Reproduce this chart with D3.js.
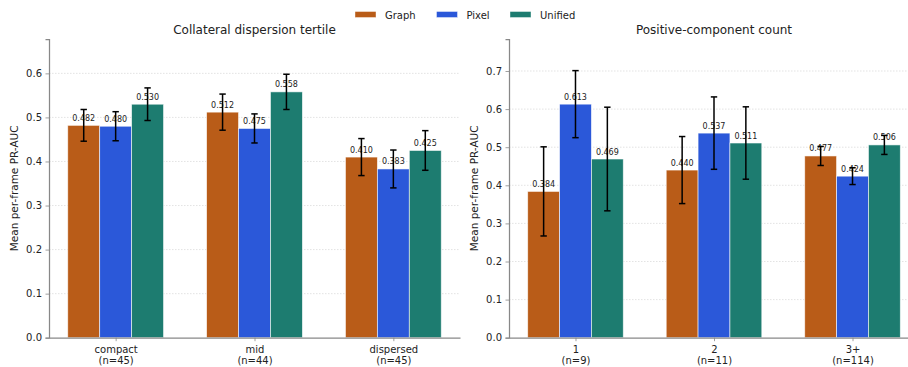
<!DOCTYPE html>
<html><head><meta charset="utf-8">
<script src="https://cdn.jsdelivr.net/npm/d3@7"></script>
<style>
html,body{margin:0;padding:0;background:#fff;}
svg{display:block;font-family:"DejaVu Sans",sans-serif;}
</style></head>
<body><svg id="c" width="908" height="367"></svg>
<script>
const seriesNames = ["Graph", "Pixel", "Unified"];
const seriesColors = ["#b95c18", "#2b58d9", "#1d7c70"];

const leftTitle = "Collateral dispersion tertile";
const leftCats = ["compact", "mid", "dispersed"];
const leftN = ["(n=45)", "(n=44)", "(n=45)"];
const leftGraph = [0.482, 0.512, 0.410];
const leftPixel = [0.480, 0.475, 0.383];
const leftUnified = [0.530, 0.558, 0.425];
const leftGraphErr = [0.036, 0.041, 0.042];
const leftPixelErr = [0.033, 0.033, 0.043];
const leftUnifiedErr = [0.037, 0.040, 0.045];
const leftTicks = [0.0, 0.1, 0.2, 0.3, 0.4, 0.5, 0.6];
const leftYMax = 0.678;

const rightTitle = "Positive-component count";
const rightCats = ["1", "2", "3+"];
const rightN = ["(n=9)", "(n=11)", "(n=114)"];
const rightGraph = [0.384, 0.440, 0.477];
const rightPixel = [0.613, 0.537, 0.424];
const rightUnified = [0.469, 0.511, 0.506];
const rightGraphErr = [0.117, 0.088, 0.025];
const rightPixelErr = [0.088, 0.095, 0.022];
const rightUnifiedErr = [0.136, 0.095, 0.025];
const rightTicks = [0.0, 0.1, 0.2, 0.3, 0.4, 0.5, 0.6, 0.7];
const rightYMax = 0.784;

const yLabel = "Mean per-frame PR-AUC";

const svg = d3.select("#c");
const barW = 0.23;
const offsets = [-barW, 0, barW];

function panel(cfg) {
  const x = d3.scaleLinear().domain([-0.48, 2.48]).range([cfg.x0, cfg.x1]);
  const y = d3.scaleLinear().domain([0, cfg.ymax]).range([337.7, 39]);
  const g = svg.append("g");
  function i2(d) { return d.i + offsets[d.s]; }

  // grid
  g.selectAll("line.grid").data(cfg.ticks.filter(t => t > 0)).enter().append("line")
    .attr("x1", cfg.x0).attr("x2", cfg.x1)
    .attr("y1", d => y(d)).attr("y2", d => y(d))
    .attr("stroke", "#dcdcdc").attr("stroke-width", 0.8).attr("stroke-dasharray", "1.5,1.5");

  const vals = [cfg.graph, cfg.pixel, cfg.unified];
  const errs = [cfg.graphErr, cfg.pixelErr, cfg.unifiedErr];
  const recs = [];
  vals.forEach((arr, s) => arr.forEach((v, i) => recs.push({s, i, v, e: errs[s][i]})));

  g.selectAll("rect.bar").data(recs).enter().append("rect")
    .attr("x", d => x(i2(d) - barW / 2))
    .attr("width", d => x(barW) - x(0))
    .attr("y", d => y(d.v))
    .attr("height", d => y(0) - y(d.v))
    .attr("fill", d => seriesColors[d.s])
    .attr("stroke", "#ffffff").attr("stroke-opacity", 0.7).attr("stroke-width", 0.8);

  g.selectAll("text.val").data(recs).enter().append("text")
    .attr("x", d => x(i2(d)))
    .attr("y", d => y(d.v) - 4.5)
    .attr("text-anchor", "middle")
    .attr("font-size", "8px").attr("fill", "#222")
    .text(d => d.v.toFixed(3));

  // error bars
  const eb = g.selectAll("g.err").data(recs).enter().append("g")
    .attr("stroke", "#000").attr("stroke-width", 1.5);
  eb.append("line")
    .attr("x1", d => x(i2(d))).attr("x2", d => x(i2(d)))
    .attr("y1", d => y(d.v + d.e)).attr("y2", d => y(d.v - d.e));
  eb.append("line")
    .attr("x1", d => x(i2(d)) - 3.2).attr("x2", d => x(i2(d)) + 3.2)
    .attr("y1", d => y(d.v + d.e)).attr("y2", d => y(d.v + d.e));
  eb.append("line")
    .attr("x1", d => x(i2(d)) - 3.2).attr("x2", d => x(i2(d)) + 3.2)
    .attr("y1", d => y(d.v - d.e)).attr("y2", d => y(d.v - d.e));

  // y axis
  const ya = d3.axisLeft(y).tickValues(cfg.ticks).tickFormat(d3.format(".1f")).tickSize(3.5).tickPadding(3.5);
  const yg = g.append("g").attr("transform", `translate(${cfg.x0},0)`).call(ya);
  yg.select(".domain").attr("stroke", "#888").attr("stroke-width", 1.25);
  yg.selectAll(".tick line").attr("stroke", "#888").attr("stroke-width", 0.8);
  yg.selectAll(".tick text").attr("font-size", "10px").attr("fill", "#222").attr("font-family", "DejaVu Sans");

  // x axis
  const xa = d3.axisBottom(x).tickValues([0, 1, 2]).tickFormat(() => "").tickSize(3.5).tickSizeOuter(0);
  const xg = g.append("g").attr("transform", `translate(0,${y(0)})`).call(xa);
  xg.select(".domain").attr("stroke", "#888").attr("stroke-width", 1.25);
  xg.selectAll(".tick line").attr("stroke", "#888").attr("stroke-width", 0.8);
  const xt = xg.selectAll(".tick").append("text").attr("fill", "#222").attr("font-size", "10px")
    .attr("text-anchor", "middle").attr("font-family", "DejaVu Sans");
  xt.append("tspan").attr("x", 0).attr("y", 15).text((d, i) => cfg.cats[i]);
  xt.append("tspan").attr("x", 0).attr("y", 26.5).text((d, i) => cfg.n[i]);

  g.append("text").attr("x", x(1)).attr("y", 33.5).attr("text-anchor", "middle")
    .attr("font-size", "12px").attr("fill", "#222").text(cfg.title);

  g.append("text")
    .attr("transform", `translate(${cfg.x0 - 31},${(y(0) + 39) / 2}) rotate(-90)`)
    .attr("text-anchor", "middle").attr("font-size", "10.5px").attr("fill", "#222").text(yLabel);
}

panel({x0: 49, x1: 460, ymax: leftYMax, ticks: leftTicks, title: leftTitle, cats: leftCats, n: leftN,
  graph: leftGraph, pixel: leftPixel, unified: leftUnified,
  graphErr: leftGraphErr, pixelErr: leftPixelErr, unifiedErr: leftUnifiedErr});
panel({x0: 509, x1: 919, ymax: rightYMax, ticks: rightTicks, title: rightTitle, cats: rightCats, n: rightN,
  graph: rightGraph, pixel: rightPixel, unified: rightUnified,
  graphErr: rightGraphErr, pixelErr: rightPixelErr, unifiedErr: rightUnifiedErr});

// legend
const legX = [355, 436.5, 510];
const lg = svg.append("g").selectAll("g").data(seriesNames).enter().append("g")
  .attr("transform", (d, i) => `translate(${legX[i]},0)`);
lg.append("rect").attr("x", 0).attr("y", 11.5).attr("width", 21).attr("height", 6)
  .attr("fill", (d, i) => seriesColors[i]).attr("stroke", "#fff").attr("stroke-opacity", 0.7).attr("stroke-width", 0.6);
lg.append("text").attr("x", 30).attr("y", 18.5).attr("font-size", "10px").attr("fill", "#222").text(d => d);
</script></body></html>
